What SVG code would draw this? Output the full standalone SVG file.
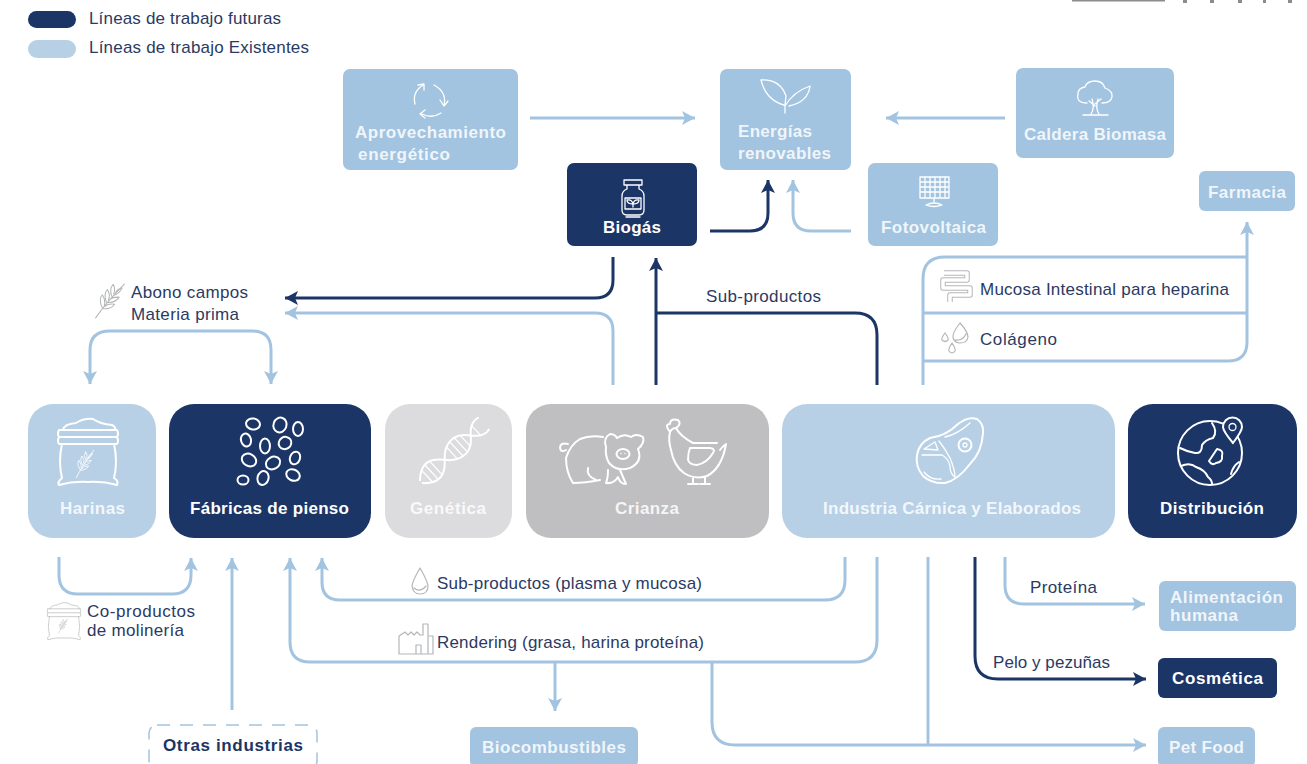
<svg xmlns="http://www.w3.org/2000/svg" width="1307" height="764" viewBox="0 0 1307 764">
<style>
text{font-family:"Liberation Sans",Arial,sans-serif}
.b{font-weight:700;font-size:17px;fill:#fff;fill-opacity:.85}
.bd{font-weight:700;font-size:17px;fill:#fff}
.l{font-size:17px;fill:#2b3a63}
.lt{fill:#a3c4e0}
.dk{fill:#1b3567}
.c{fill:none;stroke-width:3}
.cl{stroke:#a3c4e0;marker-end:url(#al)}
.cd{stroke:#1b3567;marker-end:url(#ad)}
.n{stroke:#a3c4e0}
.nd{stroke:#1b3567}
.i{fill:none;stroke:#fff;stroke-width:2;stroke-linecap:round;stroke-linejoin:round}
.t{fill:none;stroke:#fff;stroke-width:1.3;stroke-linecap:round;stroke-linejoin:round}
.g{fill:none;stroke:#b4b6b8;stroke-width:1.2;stroke-linecap:round;stroke-linejoin:round}
</style>
<defs>
<marker id="al" markerUnits="userSpaceOnUse" markerWidth="15" markerHeight="16" refX="13" refY="7" orient="auto"><path d="M0 0L13 7L0 14L3 7Z" fill="#a3c4e0"/></marker>
<marker id="ad" markerUnits="userSpaceOnUse" markerWidth="15" markerHeight="16" refX="13" refY="7" orient="auto"><path d="M0 0L13 7L0 14L3 7Z" fill="#1b3567"/></marker>
<g id="wheat"><path d="M-14 22Q-4 2 14 -22M-8 9Q-14 0 -10 -6Q-5 0 -6 6M-4 2Q-9 -7 -5 -13Q0 -7 -2 -1M1 -6Q-3 -14 1 -20Q5 -14 3 -9M-7 10Q2 10 6 3Q-2 3 -5 7M-2 2Q7 1 10 -6Q2 -5 0 -2M3 -7Q9 -9 12 -17Q6 -15 5 -10"/></g>
<g id="sack"><path d="M-25 -20Q-24 -26 -12 -27Q-4 -32 5 -31Q12 -26 24 -25Q28 -23 27 -20M-29 -20H29M-29 -20Q-31 -16 -29 -13H29Q31 -16 29 -20M-29 -13Q-31 -9 -29 -6H29Q31 -9 29 -13M-26 -6Q-30 12 -26 28Q-31 32 -29 35Q-15 31 0 32Q15 31 29 35Q31 31 26 28Q30 12 26 -6"/></g>
</defs>
<rect width="1307" height="764" fill="#fff"/>

<g id="logo-fragment" fill="#8a8c8e"><rect x="1072" y="0" width="93" height="1.5"/><rect x="1183" y="0" width="4" height="3"/><rect x="1210" y="0" width="4" height="3"/><rect x="1238" y="0" width="4" height="3"/><rect x="1263" y="0" width="3" height="3"/><rect x="1288" y="0" width="4" height="3"/></g>

<g id="legend">
<rect x="28" y="11" width="48" height="17" rx="8.5" class="dk"/>
<text x="89" y="24" class="l" textLength="192">Líneas de trabajo futuras</text>
<rect x="28" y="40" width="48" height="18" rx="9" fill="#b8d0e6"/>
<text x="89" y="53" class="l" textLength="220">Líneas de trabajo Existentes</text>
</g>

<g id="connectors">
<path class="c cl" d="M530 118H695"/>
<path class="c cl" d="M1005 118H886"/>
<path class="c cd" d="M710 231H750Q768 231 768 213V180"/>
<path class="c cl" d="M851 231H811Q793 231 793 213V180"/>
<path class="c cd" d="M613 257V280Q613 298 595 298H285"/>
<path class="c cl" d="M613 385V331Q613 313 595 313H285"/>
<path class="c cd" d="M656 385V258"/>
<path class="c nd" d="M656 313H855Q877 313 877 335V385"/>
<path class="c cl" d="M110 331Q90 331 90 350V384"/>
<path class="c cl" d="M110 331H252Q271 331 271 350V384"/>
<path class="c cl" d="M923 361H1228Q1247 361 1247 342V222"/>
<path class="c n" d="M923 385V279Q923 257 945 257H1247"/>
<path class="c n" d="M923 313H1247"/>
<path class="c cl" d="M59 557V575Q59 594 78 594H172Q191 594 191 575V558"/>
<path class="c cl" d="M232 710V558"/>
<path class="c cl" d="M877 557V640Q877 662 855 662H310Q290 662 290 642V558"/>
<path class="c cl" d="M845 557V580Q845 600 825 600H340Q322 600 322 582V558"/>
<path class="c cl" d="M555 662V711"/>
<path class="c cl" d="M712 662V722Q712 745 735 745H1146"/>
<path class="c n" d="M928 557V745"/>
<path class="c cd" d="M975 557V656Q975 679 998 679H1146"/>
<path class="c cl" d="M1005 557V585Q1005 604 1024 604H1145"/>
</g>

<g id="aprovechamiento">
<rect x="343" y="69" width="175" height="101" rx="7" class="lt"/>
<path class="t" d="M415 104Q412 92 423 85M418 85L424 84L424 90M434 85Q447 92 444 105M440 100L444 106L448 101M441 113Q432 119 422 114M425 110L420 114L425 118"/>
<text x="355" y="138" class="b" textLength="151">Aprovechamiento</text>
<text x="358" y="160" class="b" textLength="92">energético</text>
</g>
<g id="energias">
<rect x="720" y="69" width="131" height="101" rx="7" class="lt"/>
<path class="t" d="M785 113V105M784 105Q766 100 761 80Q780 79 786 96L785 105M785 106Q793 92 810 86Q808 102 789 106"/>
<text x="738" y="137" class="b" textLength="74">Energías</text>
<text x="738" y="159" class="b" textLength="93">renovables</text>
</g>
<g id="caldera">
<rect x="1016" y="68" width="158" height="90" rx="7" class="lt"/>
<path class="t" d="M1087 103Q1076 103 1078 94Q1078 88 1085 87Q1087 81 1095 81Q1103 81 1105 88Q1113 91 1112 97Q1111 103 1102 103M1091 114Q1095 108 1092 99M1099 114Q1095 108 1098 99M1095 104L1101 99M1095 106L1089 101M1083 115H1108"/>
<text x="1024" y="140" class="b" textLength="142">Caldera Biomasa</text>
</g>
<g id="biogas">
<rect x="567" y="163" width="130" height="83" rx="7" class="dk"/>
<path class="t" d="M624 180H642V185H624ZM627 185V189Q622 191 622 196V210Q622 215 627 215H639Q644 215 644 210V196Q644 191 639 189V185M625 198H641V209H625ZM633 207V203M633 204Q627 204 627 200Q632 199 633 204M633 204Q639 204 639 200Q634 199 633 204M626 217H640"/>
<text x="603" y="233" class="bd" textLength="58">Biogás</text>
</g>
<g id="fotovoltaica">
<rect x="868" y="163" width="130" height="83" rx="7" class="lt"/>
<path class="t" d="M920 177H949V198H920ZM925 177V198M930 177V198M935 177V198M940 177V198M945 177V198M920 182H949M920 187H949M920 192H949M934 198V203M926 205Q934 201 942 205Q934 208 926 205"/>
<text x="881" y="233" class="b" textLength="105">Fotovoltaica</text>
</g>
<g id="farmacia">
<rect x="1199" y="171" width="96" height="40" rx="6" class="lt"/>
<text x="1208" y="198" class="b" textLength="78">Farmacia</text>
</g>

<g id="abono">
<use href="#wheat" class="g" transform="translate(110 301) rotate(8) scale(.85)"/>
<text x="131" y="298" class="l" textLength="117">Abono campos</text>
<text x="131" y="320" class="l" textLength="108">Materia prima</text>
</g>
<text x="706" y="302" class="l" textLength="115">Sub-productos</text>
<g id="mucosa">
<path d="M944 273H967V280H943V288H970V295H950V302" fill="none" stroke="#b4b6b8" stroke-width="5.5" stroke-linejoin="round"/>
<path d="M944 273H967V280H943V288H970V295H950V302" fill="none" stroke="#fff" stroke-width="3.5" stroke-linejoin="round"/>
<text x="980" y="295" class="l" textLength="249">Mucosa Intestinal para heparina</text>
</g>
<g id="colageno">
<path class="g" d="M960 323Q952 333 953 338Q955 343 960 343Q967 343 968 337Q968 332 960 323ZM945 333Q941 338 942 340Q945 343 948 340Q949 338 945 333ZM952 343Q948 349 949 351Q952 355 955 351Q956 349 952 343ZM955 340Q963 341 966 334"/>
<text x="980" y="345" class="l" textLength="77">Colágeno</text>
</g>

<g id="harinas">
<rect x="28" y="404" width="128" height="134" rx="25" fill="#b8d0e6"/>
<use href="#sack" class="i" transform="translate(88 450)"/>
<use href="#wheat" class="t" transform="translate(85 464) scale(.62)"/>
<text x="60" y="514" class="b" textLength="65" fill-opacity=".75">Harinas</text>
</g>
<g id="fabricas">
<rect x="169" y="404" width="202" height="134" rx="25" class="dk"/>
<g class="i"><ellipse cx="253" cy="424" rx="7" ry="5.5" transform="rotate(10 253 424)"/><ellipse cx="280" cy="425" rx="6.5" ry="7.5" transform="rotate(20 280 425)"/><ellipse cx="298" cy="429" rx="5" ry="7"/><ellipse cx="246" cy="440" rx="5" ry="6.5" transform="rotate(-15 246 440)"/><ellipse cx="265" cy="446" rx="5" ry="7.5"/><ellipse cx="285" cy="443" rx="6.5" ry="6" transform="rotate(-35 285 443)"/><ellipse cx="249" cy="460" rx="7.5" ry="6" transform="rotate(30 249 460)"/><ellipse cx="273" cy="463" rx="7.5" ry="6" transform="rotate(-30 273 463)"/><ellipse cx="295" cy="458" rx="5" ry="6.5" transform="rotate(20 295 458)"/><ellipse cx="243" cy="480" rx="5.5" ry="4.5"/><ellipse cx="263" cy="478" rx="5.5" ry="7" transform="rotate(15 263 478)"/><ellipse cx="293" cy="475" rx="7" ry="5.5" transform="rotate(25 293 475)"/></g>
<text x="190" y="514" class="bd" textLength="159">Fábricas de pienso</text>
</g>
<g id="genetica">
<rect x="385" y="404" width="127" height="134" rx="25" fill="#dcdcde"/>
<g transform="translate(452 453) rotate(-43)">
<path class="i" d="M-42 -2C-30 -14 -20 -12 -10 0C0 12 14 14 24 2C30 -6 36 -10 43 -8M-42 2C-30 14 -20 12 -10 0C0 -12 14 -14 24 -2C30 6 36 10 43 8"/>
<path class="t" d="M-34 -7V7M-28 -9V9M-22 -9V9M0 -8V8M6 -10V10M12 -10V10M18 -7V7M33 -7V7"/>
</g>
<text x="410" y="514" class="b" textLength="76" fill-opacity=".8">Genética</text>
</g>
<g id="crianza">
<rect x="526" y="404" width="243" height="134" rx="25" fill="#bfbfc1"/>
<path class="i" d="M603 437Q590 435 580 439Q570 445 566 458Q566 472 573 483Q585 483 600 480M568 444Q560 442 560 448Q561 453 566 450M588 468Q586 476 596 480M608 470Q608 478 606 483Q614 484 618 477Q620 484 626 484L620 470"/>
<path class="i" d="M606 447Q603 438 610 434Q615 434 617 438Q624 433 631 437Q636 433 643 437Q645 443 638 449Q643 462 630 468Q617 472 609 463Q605 456 606 447Z"/>
<ellipse cx="623" cy="454" rx="6.5" ry="5" class="i"/><path class="t" d="M621 453.500h.1M625 453.500h.1"/>
<path class="i" d="M670 432Q664 424 670 424Q670 418 678 420Q682 424 676 428Q672 428 670 432ZM676 428Q680 436 693 443H717M670 432Q668 440 671 450Q674 466 684 473Q695 480 707 476Q722 468 726 444Q722 447 720 450M690 448H710Q716 449 713 453Q707 463 697 465Q690 465 688 460Q688 453 690 448ZM693 478V483M705 478V483M688 484H698M700 484H710"/>
<text x="615" y="514" class="bd" textLength="64" fill-opacity=".85">Crianza</text>
</g>
<g id="industria">
<rect x="782" y="404" width="333" height="134" rx="25" fill="#b8d0e6"/>
<path class="i" d="M977 419Q984 424 983 433Q982 452 970 464Q958 480 945 483Q932 484 923 476Q915 466 917 455Q919 443 930 438Q946 436 958 424Q968 416 977 419Z"/>
<path class="t" d="M922 455L942 455Q948 458 950 466Q950 474 955 477M939 441Q946 450 950 458Q955 470 955 477M924 449L935 442L938 450ZM941 479Q930 480 924 472M945 437Q958 434 970 423"/>
<circle cx="965" cy="445" r="6.500" class="i"/><circle cx="965" cy="445" r="2" class="t"/>
<text x="823" y="514" class="b" textLength="258" fill-opacity=".75">Industria Cárnica y Elaborados</text>
</g>
<g id="distribucion">
<rect x="1128" y="404" width="169" height="134" rx="25" class="dk"/>
<circle cx="1210" cy="453" r="32" class="i"/>
<path class="i" d="M1212 423Q1218 432 1213 438Q1205 440 1202 445Q1202 454 1195 453Q1188 452 1180 448M1181 466Q1190 462 1196 467Q1205 470 1208 477Q1212 480 1212 484M1217 449Q1224 450 1222 456Q1223 462 1216 463Q1212 466 1209 461Q1213 455 1217 449ZM1239 462Q1233 466 1231 474"/>
<path d="M1233 443Q1223 431 1223 427a9.500 9.500 0 1 1 19 0Q1242 431 1233 443Z" fill="#1b3567" stroke="#fff" stroke-width="2"/><circle cx="1232.500" cy="427" r="3.500" class="t"/>
<text x="1160" y="514" class="bd" textLength="104">Distribución</text>
</g>

<g id="coproductos">
<use href="#sack" class="g" transform="translate(64 620) scale(.56)"/>
<use href="#wheat" class="g" transform="translate(63 626) scale(.33)"/>
<text x="87" y="617" class="l" textLength="108">Co-productos</text>
<text x="87" y="636" class="l" textLength="97">de molinería</text>
</g>
<g id="subplasma">
<path class="g" d="M420 568Q412 582 412 586Q413 594 420 594Q428 594 428 586Q428 582 420 568ZM414 588Q420 593 426 586"/>
<text x="437" y="589" class="l" textLength="265">Sub-productos (plasma y mucosa)</text>
</g>
<g id="rendering">
<path class="g" d="M399 654V636L405 632L408 635L411 632L414 635L417 632L420 635H423V624H428V654ZM399 654H433V636H428M416 654V645H421V654"/>
<text x="437" y="648" class="l" textLength="267">Rendering (grasa, harina proteína)</text>
</g>
<text x="1030" y="593" class="l" textLength="67">Proteína</text>
<text x="993" y="668" class="l" textLength="117">Pelo y pezuñas</text>

<g id="alimentacion">
<rect x="1159" y="581" width="137" height="50" rx="6" class="lt"/>
<text x="1170" y="603" class="b" textLength="113">Alimentación</text>
<text x="1170" y="621" class="b" textLength="68">humana</text>
</g>
<g id="cosmetica">
<rect x="1158" y="658" width="119" height="40" rx="6" class="dk"/>
<text x="1172" y="684" class="bd" textLength="91">Cosmética</text>
</g>
<g id="petfood">
<rect x="1158" y="727" width="97" height="40" rx="6" class="lt"/>
<text x="1169" y="753" class="b" textLength="75">Pet Food</text>
</g>
<g id="biocombustibles">
<rect x="470" y="727" width="168" height="40" rx="6" class="lt"/>
<text x="482" y="753" class="b" textLength="144">Biocombustibles</text>
</g>
<g id="otras">
<rect x="149" y="725" width="168" height="44" rx="8" fill="none" stroke="#a3c4e0" stroke-width="1.5" stroke-dasharray="13 10"/>
<text x="163" y="751" font-size="17" font-weight="700" fill="#1b3567" textLength="140">Otras industrias</text>
</g>
</svg>
